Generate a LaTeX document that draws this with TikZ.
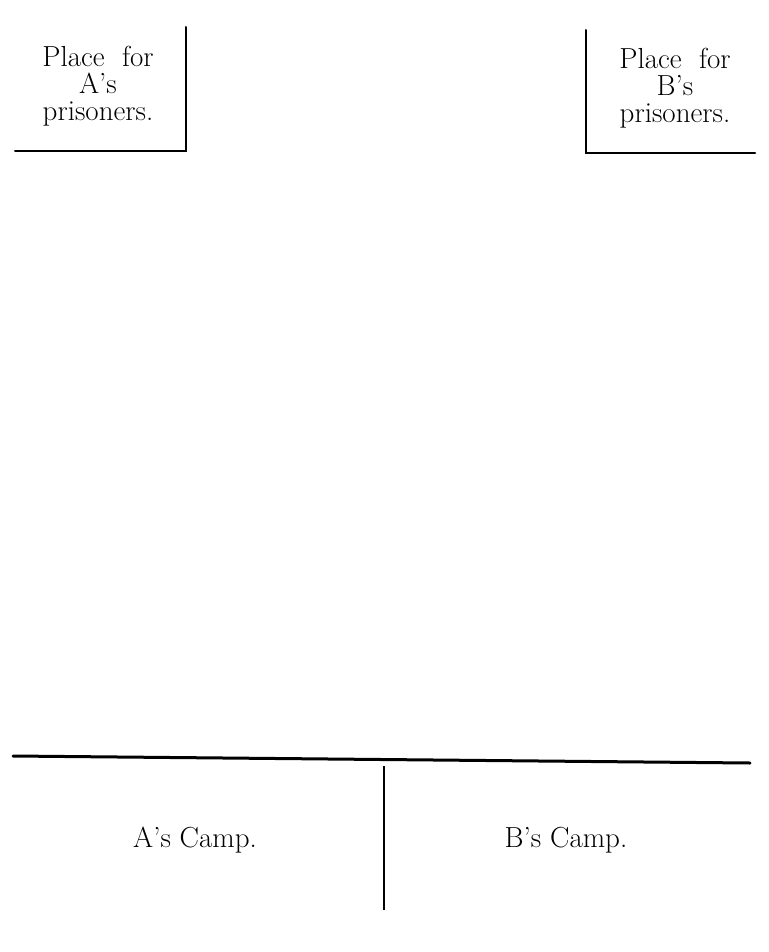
\documentclass[tikz,border=0pt]{standalone}
\usepackage{tikz}
\usetikzlibrary{calc}

\tikzset{
  rule/.style={line width=2pt, line cap=round},
  mainrule/.style={line width=3pt, line cap=round},
  label/.style={inner sep=0pt, align=center, font=\fontsize{29}{27}\selectfont}
}

\begin{document}
\begin{tikzpicture}[x=1pt,y=-1pt]
    \useasboundingbox (0,0) rectangle (768,952);
    % prisoners' corners
    \coordinate (atop) at (186,27);
    \coordinate (acorner) at (186,151);
    \coordinate (aleft) at (15,151);
    \coordinate (btop) at (586,30);
    \coordinate (bcorner) at (586,153);
    \coordinate (bright) at (755,153);
    \draw[rule] (atop) -- (acorner) -- (aleft);
    \draw[rule] (btop) -- (bcorner) -- (bright);
    \node[label] (aprison) at (98,86) {Place\ \ for\\A's\\prisoners.};
    \node[label] (bprison) at (675,88) {Place\ \ for\\B's\\prisoners.};
    % camps
    \coordinate (lineleft) at (13,756);
    \coordinate (lineright) at (750,763);
    \coordinate (divtop) at (384,766);
    \coordinate (divbot) at (384,910);
    \draw[mainrule] (lineleft) -- (lineright);
    \draw[line width=1.5pt] (divtop) -- (divbot);
    \node[label, anchor=base] (acamp) at (195,847) {A's Camp.};
    \node[label, anchor=base] (bcamp) at (566,847) {B's Camp.};
\end{tikzpicture}
\end{document}
